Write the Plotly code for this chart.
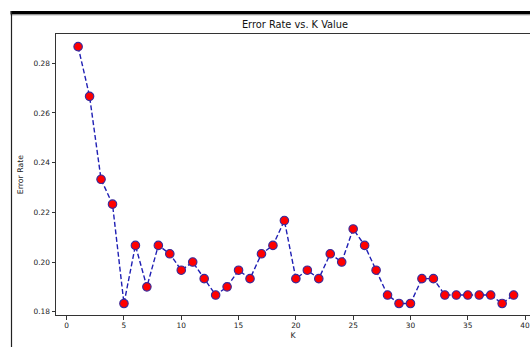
import plotly.graph_objects as go

k_values = list(range(1, 40))
error_rate = [
    0.2867, 0.2667, 0.2333, 0.2233, 0.1833, 0.2067, 0.1900, 0.2067, 0.2033, 0.1967,
    0.2000, 0.1933, 0.1867, 0.1900, 0.1967, 0.1933, 0.2033, 0.2067, 0.2167, 0.1933,
    0.1967, 0.1933, 0.2033, 0.2000, 0.2133, 0.2067, 0.1967, 0.1867, 0.1833, 0.1833,
    0.1933, 0.1933, 0.1867, 0.1867, 0.1867, 0.1867, 0.1867, 0.1833, 0.1867,
]
x_ticks = [0, 5, 10, 15, 20, 25, 30, 35, 40]
y_ticks = [0.18, 0.20, 0.22, 0.24, 0.26, 0.28]
y_tick_labels = ["0.18", "0.20", "0.22", "0.24", "0.26", "0.28"]

FONT = "DejaVu Sans"
AX = "#333333"

fig = go.Figure()
fig.add_trace(go.Scatter(
    x=k_values, y=error_rate, mode="lines+markers",
    line=dict(color="#1f1fb4", width=1.4, dash="5px,2.5px"),
    marker=dict(size=8.5, color="#ff0000", line=dict(color="#3a2a9a", width=1.1)),
    showlegend=False, cliponaxis=False,
))

axis_common = dict(
    showgrid=False, zeroline=False, showline=True, linecolor=AX, linewidth=1,
    mirror=True, ticks="outside", ticklen=3.5, tickwidth=0.8, tickcolor=AX,
    tickfont=dict(family=FONT, size=7.4, color="#222222"),
    ticklabeloverflow="allow",
)

fig.update_layout(
    width=530, height=347,
    margin=dict(l=56, r=0, t=34, b=32),
    paper_bgcolor="white", plot_bgcolor="white",
    title=dict(text="Error Rate vs. K Value", x=295 / 530, xanchor="center",
               y=1 - 25 / 347, yanchor="middle",
               font=dict(family=FONT, size=9.8, color="#111111")),
    xaxis=dict(range=[-0.93, 40.43], tickvals=x_ticks,
               title=dict(text="K", standoff=3, font=dict(family=FONT, size=7.8, color="#222222")),
               **axis_common),
    yaxis=dict(range=[0.17867, 0.2918], tickvals=y_ticks, ticktext=y_tick_labels,
               title=dict(text="Error Rate", standoff=8, font=dict(family=FONT, size=7.8, color="#222222")),
               **axis_common),
    shapes=[
        dict(type="rect", xref="paper", yref="paper",
             x0=(10.5 - 56) / 474, x1=1.05, y0=(315 - 14.3) / 281, y1=(315 - 11) / 281,
             fillcolor="black", line=dict(width=0)),
        dict(type="line", xref="paper", yref="paper",
             x0=(10.5 - 56) / 474, x1=1.05, y0=(315 - 14.8) / 281, y1=(315 - 14.8) / 281,
             line=dict(color="#888888", width=1)),
        dict(type="line", xref="paper", yref="paper",
             x0=(11.5 - 56) / 474, x1=(11.5 - 56) / 474, y0=-0.2, y1=(315 - 11) / 281,
             line=dict(color="#222222", width=1.2)),
    ],
)

fig.write_html(
    "out.html",
    config={"displayModeBar": False},
    post_script="document.body.style.margin='0';document.body.style.overflow='hidden';",
)
